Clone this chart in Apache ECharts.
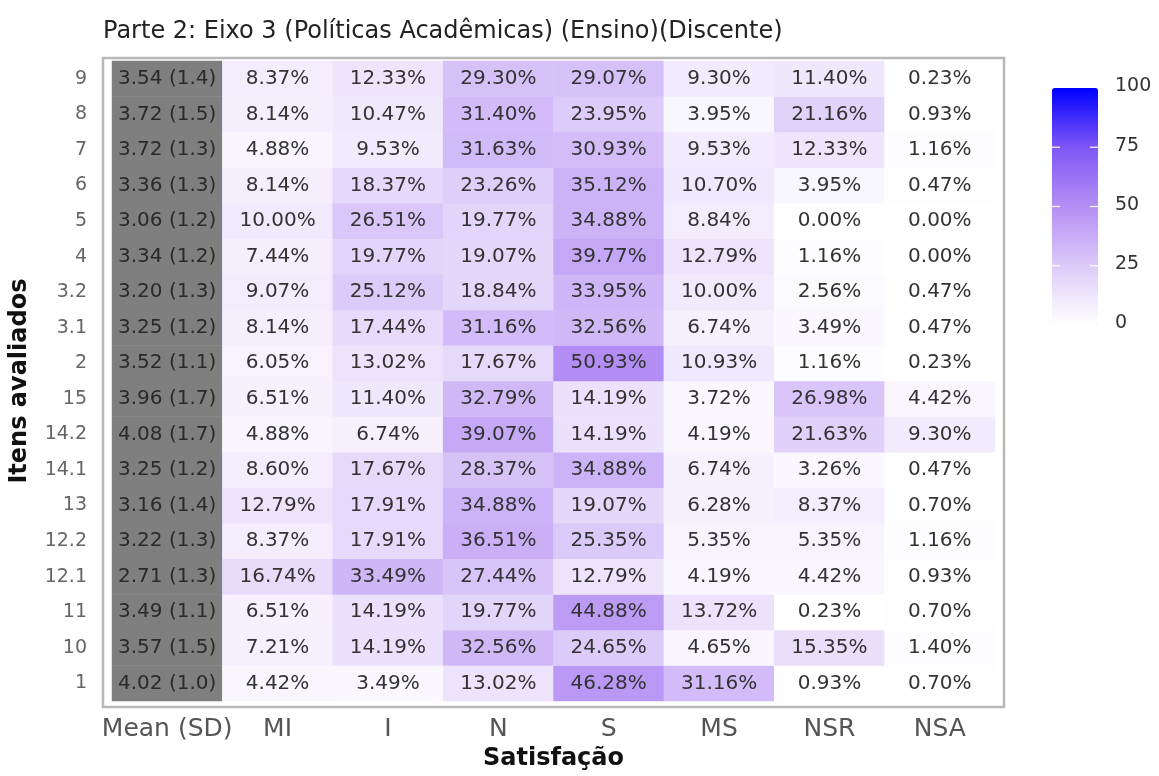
<!DOCTYPE html>
<html>
<head>
<meta charset="utf-8">
<script src="https://cdn.jsdelivr.net/npm/echarts@6/dist/echarts.min.js"></script>
<style>
  html, body { margin: 0; padding: 0; background: #fff; }
  #chart { width: 1159px; height: 776px; }
</style>
</head>
<body>
<div id="chart"></div>
<script>
// eixo x (colunas) e eixo y (itens, de baixo para cima)
var columns = ["Mean (SD)", "MI", "I", "N", "S", "MS", "NSR", "NSA"];
var items = ["1", "10", "11", "12.1", "12.2", "13", "14.1", "14.2", "15",
             "2", "3.1", "3.2", "4", "5", "6", "7", "8", "9"];

// média e desvio padrão por item
var means = [4.02, 3.57, 3.49, 2.71, 3.22, 3.16, 3.25, 4.08, 3.96,
             3.52, 3.25, 3.20, 3.34, 3.06, 3.36, 3.72, 3.72, 3.54];
var sds = [1.0, 1.5, 1.1, 1.3, 1.3, 1.4, 1.2, 1.7, 1.7,
           1.1, 1.2, 1.3, 1.2, 1.2, 1.3, 1.3, 1.5, 1.4];

// percentuais por nível de satisfação
var pctMI = [4.42, 7.21, 6.51, 16.74, 8.37, 12.79, 8.60, 4.88, 6.51,
             6.05, 8.14, 9.07, 7.44, 10.00, 8.14, 4.88, 8.14, 8.37];
var pctI = [3.49, 14.19, 14.19, 33.49, 17.91, 17.91, 17.67, 6.74, 11.40,
            13.02, 17.44, 25.12, 19.77, 26.51, 18.37, 9.53, 10.47, 12.33];
var pctN = [13.02, 32.56, 19.77, 27.44, 36.51, 34.88, 28.37, 39.07, 32.79,
            17.67, 31.16, 18.84, 19.07, 19.77, 23.26, 31.63, 31.40, 29.30];
var pctS = [46.28, 24.65, 44.88, 12.79, 25.35, 19.07, 34.88, 14.19, 14.19,
            50.93, 32.56, 33.95, 39.77, 34.88, 35.12, 30.93, 23.95, 29.07];
var pctMS = [31.16, 4.65, 13.72, 4.19, 5.35, 6.28, 6.74, 4.19, 3.72,
             10.93, 6.74, 10.00, 12.79, 8.84, 10.70, 9.53, 3.95, 9.30];
var pctNSR = [0.93, 15.35, 0.23, 4.42, 5.35, 8.37, 3.26, 21.63, 26.98,
              1.16, 3.49, 2.56, 1.16, 0.00, 3.95, 12.33, 21.16, 11.40];
var pctNSA = [0.70, 1.40, 0.70, 0.93, 1.16, 0.70, 0.47, 9.30, 4.42,
              0.23, 0.47, 0.47, 0.00, 0.00, 0.47, 1.16, 0.93, 0.23];

// marcas da barra de cores
var legendTicks = [0, 25, 50, 75, 100];

var pctColumns = [pctMI, pctI, pctN, pctS, pctMS, pctNSR, pctNSA];
var font = "DejaVu Sans";

// dados do heatmap
var meanData = items.map(function (it, i) {
  return [0, i, means[i]];
});
var pctData = [];
pctColumns.forEach(function (col, c) {
  col.forEach(function (v, i) {
    pctData.push([c + 1, i, v]);
  });
});

// barra de cores (posição)
var barLeft = 1052, barTop = 88, barW = 46, barH = 237;
var legendGraphics = [];
legendTicks.forEach(function (t) {
  var y = barTop + barH * (1 - t / 100);
  legendGraphics.push({
    type: "text",
    left: barLeft + barW + 17,
    top: y - 11,
    style: { text: String(t), font: "19px " + font, fill: "#333" },
  });
  if (t > 0 && t < 100) {
    legendGraphics.push({
      type: "line", z: 100,
      shape: { x1: barLeft, y1: y, x2: barLeft + 8, y2: y },
      style: { stroke: "#fff", lineWidth: 1.2 },
    });
    legendGraphics.push({
      type: "line", z: 100,
      shape: { x1: barLeft + barW - 8, y1: y, x2: barLeft + barW, y2: y },
      style: { stroke: "#fff", lineWidth: 1.2 },
    });
  }
});

var chart = echarts.init(document.getElementById("chart"));
chart.setOption({
  animation: false,
  title: {
    text: "Parte 2: Eixo 3 (Políticas Acadêmicas) (Ensino)(Discente)",
    left: 98,
    top: 15,
    textStyle: { fontFamily: font, fontSize: 24, fontWeight: "normal", color: "#222" },
  },
  grid: { left: 112, right: 164, top: 61, bottom: 71 },
  xAxis: {
    type: "category",
    data: columns,
    name: "Satisfação",
    nameLocation: "middle",
    nameGap: 44,
    nameTextStyle: { fontFamily: font, fontSize: 24, fontWeight: "bold", color: "#111" },
    axisLine: { show: false },
    axisTick: { show: false },
    axisLabel: { interval: 0, fontFamily: font, fontSize: 25, color: "#555", margin: 16 },
    splitArea: { show: false },
  },
  yAxis: {
    type: "category",
    data: items,
    name: "Itens avaliados",
    nameLocation: "middle",
    nameGap: 80,
    nameTextStyle: { fontFamily: font, fontSize: 24, fontWeight: "bold", color: "#111" },
    axisLine: { show: false },
    axisTick: { show: false },
    axisLabel: { interval: 0, fontFamily: font, fontSize: 19, color: "#666", margin: 25 },
  },
  visualMap: {
    type: "continuous",
    seriesIndex: 1,
    min: 0,
    max: 100,
    calculable: false,
    orient: "vertical",
    left: barLeft,
    top: barTop,
    padding: 0,
    itemWidth: barW,
    itemHeight: barH,
    text: null,
    inRange: { color: ["#ffffff", "#dccaf9", "#b48ff4", "#7e56f6", "#0000ff"] },
  },
  graphic: [
    // moldura do painel
    {
      type: "rect",
      z: -1,
      shape: { x: 103, y: 58, width: 901, height: 649 },
      style: { fill: "#fff", stroke: "#b8b8b8", lineWidth: 2.5 },
    },
  ].concat(legendGraphics),
  series: [
    {
      name: "mean",
      type: "heatmap",
      data: meanData,
      itemStyle: { color: "#7f7f7f" },
      label: {
        show: true,
        fontFamily: font,
        fontSize: 20,
        color: "#2a2a2a",
        formatter: function (p) {
          var i = p.data[1];
          return means[i].toFixed(2) + " (" + sds[i].toFixed(1) + ")";
        },
      },
      emphasis: { disabled: true },
    },
    {
      name: "pct",
      type: "heatmap",
      data: pctData,
      label: {
        show: true,
        fontFamily: font,
        fontSize: 20,
        color: "#333",
        formatter: function (p) {
          return p.data[2].toFixed(2) + "%";
        },
      },
      emphasis: { disabled: true },
    },
  ],
});
</script>
</body>
</html>
